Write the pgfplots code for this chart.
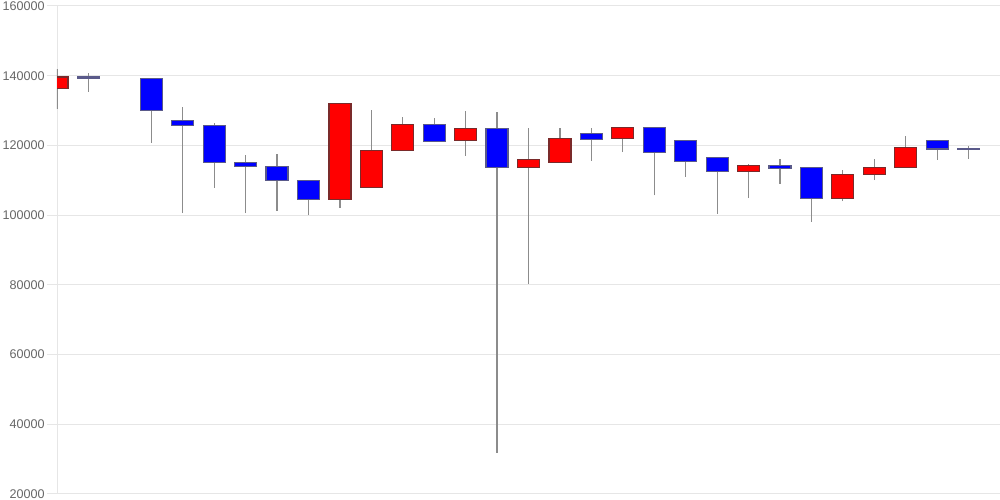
\documentclass[border=0pt]{standalone}
\usepackage{fontspec}
\setmainfont{Liberation Sans}
\usepackage{pgfplots}
\usepackage{pgfplotstable}
\pgfplotsset{compat=1.18}
\definecolor{gridc}{HTML}{E6E6E6}
\definecolor{labc}{HTML}{666666}
\definecolor{wick}{HTML}{8C8C8C}
\definecolor{updark}{HTML}{7A2A2A}
\definecolor{dnedge}{HTML}{5A5A8A}

% x low bot top high
\pgfplotstableread{
x  low    bot    top    high
0  130560 136290 139650 141940
9  102090 104500 132100 132100
10 108020 108020 118620 130090
11 118620 118620 126070 128270
13 117080 121300 124740 129810
15 80300  113550 116050 124930
16 115080 115080 122070 124930
18 118050 121970 125120 125220
22 104870 112410 114330 114700
25 104000 104760 111750 113070
26 110030 111640 113760 116130
27 113640 113640 119290 122640
}\upc
\pgfplotstableread{
x  low    bot    top    high
1  135430 139270 139650 140790
3  120810 129990 139160 139160
4  100570 125690 127120 131040
5  107910 115080 125790 126550
6  100570 114040 115180 117280
7  101320 110030 114040 117570
8  99990  104470 110030 110030
12 121010 121200 126070 127890
14 31850  113550 124740 129700
17 115650 121780 123500 125020
19 105700 118050 125120 125120
20 111060 115470 121490 121490
21 100370 112410 116620 116620
23 109050 113470 114330 116130
24 98160  104760 113640 113640
28 115940 119000 121490 121490
29 116220 118950 119100 119950
}\dnc

\pgfplotsset{cs/.style={scale only axis,width=471.5pt,height=244pt,
  xmin=0,xmax=30,ymin=20000,ymax=160000,clip=true},
  wk/.style={draw=none,no marks,error bars/.cd,y dir=plus,y explicit,error mark=none,
  error bar style={draw=wick,line width=0.6pt}}}

\begin{document}
\begin{tikzpicture}
\begin{axis}[cs,
  ytick={20000,40000,60000,80000,100000,120000,140000,160000},
  yticklabels={20000,40000,60000,80000,100000,120000,140000,160000},
  xtick=\empty,
  ymajorgrids,grid style={gridc,line width=0.5pt},
  axis x line=none,axis y line=left,axis line style={gridc,-},
  tick align=outside,major tick length=5pt,ytick style={gridc,line width=0.5pt},
  yticklabel style={font=\fontsize{6.3}{7}\selectfont,text=labc,inner sep=1pt}]
\coordinate (bl) at (rel axis cs:0,0);
\coordinate (tr) at (rel axis cs:1,1);
\addplot[wk] table[x=x,y=low,y error plus expr=\thisrow{high}-\thisrow{low}] {\upc};
\addplot[wk] table[x=x,y=low,y error plus expr=\thisrow{high}-\thisrow{low}] {\dnc};
\end{axis}
\begin{axis}[cs,hide axis,ybar stacked,bar width=11pt]
\addplot[fill=none,draw=none] table[x=x,y=bot] {\upc};
\addplot[fill=red,draw=updark,line width=0.6pt] table[x=x,y expr=\thisrow{top}-\thisrow{bot}] {\upc};
\end{axis}
\begin{axis}[cs,hide axis,ybar stacked,bar width=11pt]
\addplot[fill=none,draw=none] table[x=x,y=bot] {\dnc};
\addplot[fill=blue,draw=dnedge,line width=0.6pt] table[x=x,y expr=\thisrow{top}-\thisrow{bot}] {\dnc};
\end{axis}
\pgfresetboundingbox
\path[use as bounding box] ([xshift=-28.5pt,yshift=-3pt]bl) rectangle ([yshift=3pt]tr);
\end{tikzpicture}
\end{document}
